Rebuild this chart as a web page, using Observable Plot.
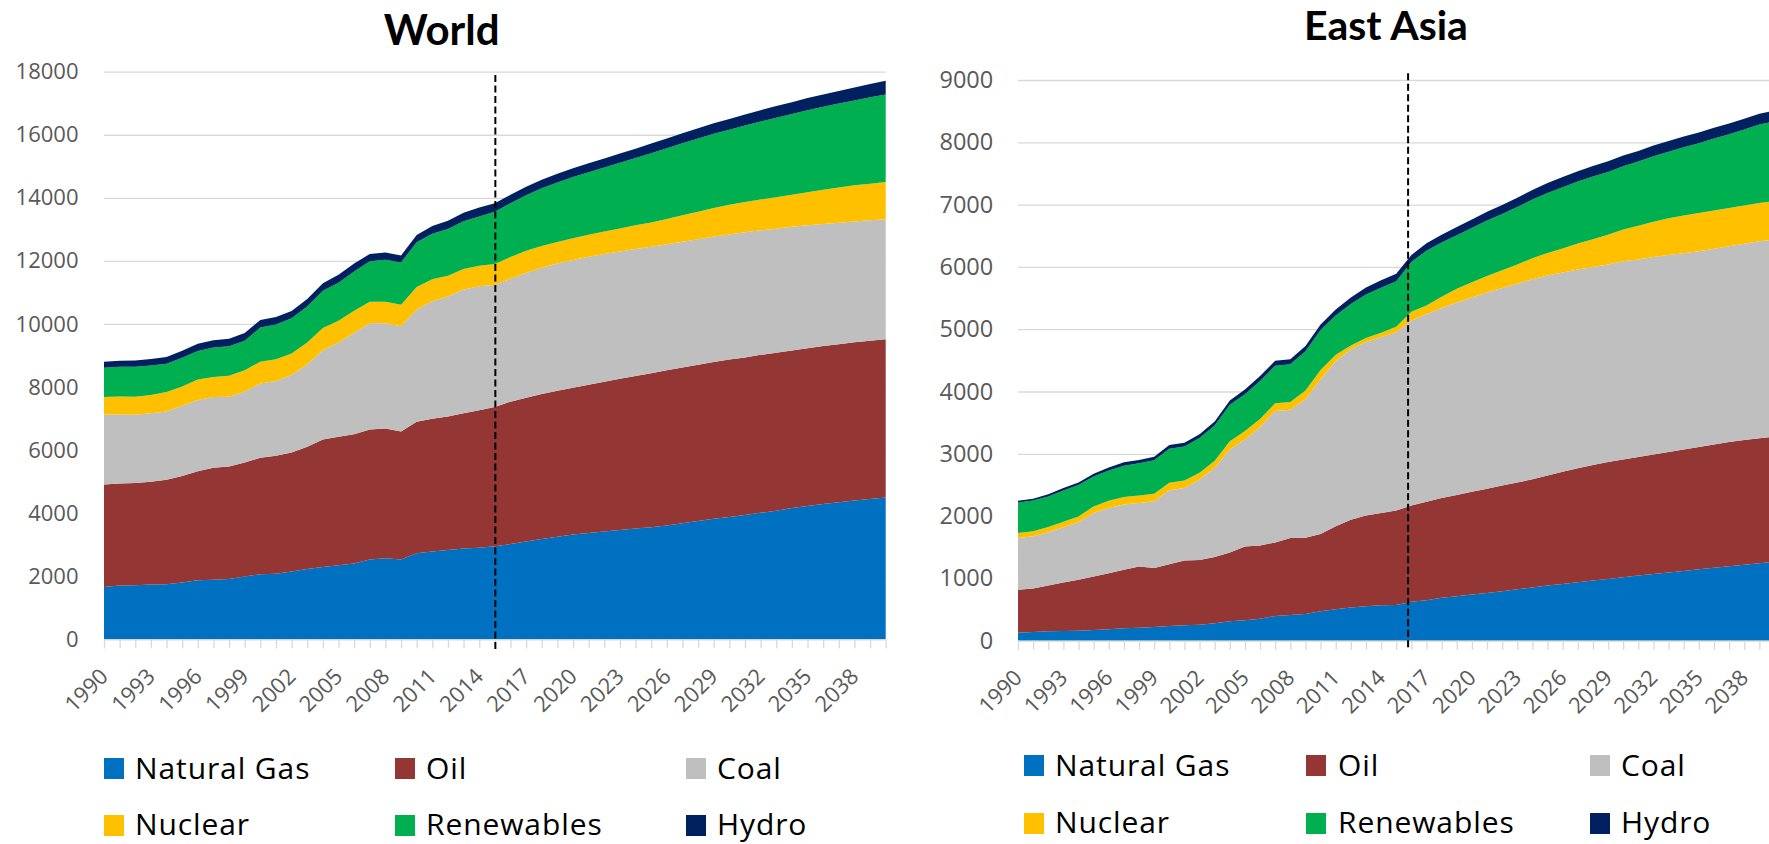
<!DOCTYPE html>
<html><head><meta charset="utf-8">
<script src="https://cdn.jsdelivr.net/npm/d3@7"></script>
<script src="https://cdn.jsdelivr.net/npm/@observablehq/plot@0.6"></script>
<style>
html,body{margin:0;padding:0;background:#fff;overflow:hidden}
#page{position:relative;width:1769px;height:844px;overflow:hidden;font-family:"Open Sans",sans-serif;background:#fff}
.holder{position:absolute;top:0}
.title{position:absolute;font-family:Lato,"Open Sans",sans-serif;font-weight:700;line-height:1;color:#000;white-space:nowrap;transform:translateX(-50%)}
.leg{position:absolute;font-size:30px;line-height:30px;color:#000;white-space:nowrap;letter-spacing:0.9px}
.sw{position:absolute;width:20px;height:21px}
</style></head><body><div id="page"></div><script>
// ---------- data ----------
const years = d3.range(1990, 2041);
const labelYears = [1990,1993,1996,1999,2002,2005,2008,2011,2014,2017,2020,2023,2026,2029,2032,2035,2038];
const fuels = ["Natural Gas","Oil","Coal","Nuclear","Renewables","Hydro"];
const fuelColors = ["#0070C0","#943634","#BFBFBF","#FFC000","#00B050","#002060"];
const worldYTicks = [0,2000,4000,6000,8000,10000,12000,14000,16000,18000];
const eaYTicks = [0,1000,2000,3000,4000,5000,6000,7000,8000,9000];
const dividers = [2015, 2015.75]; // World, East Asia

const worldGas = [1660,1710,1715,1735,1745,1800,1870,1885,1915,1990,
  2065,2075,2150,2230,2295,2350,2400,2530,2570,2530,
  2730,2785,2835,2880,2900,2950,3020,3100,3180,3250,
  3320,3370,3420,3470,3510,3550,3610,3680,3750,3820,
  3880,3940,4010,4080,4160,4230,4290,4350,4400,4450,4500];
const worldOil = [3250,3230,3240,3260,3315,3375,3460,3555,3565,3620,
  3690,3745,3775,3875,4040,4075,4105,4125,4115,4060,
  4170,4210,4230,4285,4360,4420,4515,4560,4600,4630,
  4660,4700,4750,4790,4840,4890,4920,4940,4960,4970,
  4990,5000,5010,5010,5000,5000,5010,5010,5020,5020,5015];
const worldCoal = [2220,2190,2170,2170,2165,2230,2255,2245,2210,2245,
  2360,2370,2455,2615,2835,2985,3215,3365,3335,3335,
  3555,3725,3810,3925,3935,3875,3895,3960,4000,4040,
  4050,4060,4050,4040,4030,4010,4000,3990,3980,3980,
  3970,3970,3950,3930,3920,3900,3870,3850,3830,3820,3805];
const worldNuclear = [550,570,570,580,615,615,655,635,665,675,
  690,690,680,690,700,690,700,685,685,685,
  720,700,655,655,655,660,690,700,690,680,
  690,700,710,730,750,770,800,840,870,910,
  940,960,980,1000,1020,1050,1090,1120,1150,1160,1180];
const worldRenewables = [930,940,950,940,900,910,900,930,940,940,
  1080,1100,1120,1140,1180,1210,1240,1280,1330,1340,
  1420,1440,1480,1510,1560,1650,1710,1760,1830,1890,
  1940,1980,2030,2080,2130,2190,2240,2280,2320,2350,
  2380,2420,2470,2520,2560,2600,2630,2660,2690,2740,2780];
const worldHydro = [190,195,200,205,210,220,230,235,240,245,
  240,240,235,240,245,250,255,235,230,220,
  230,250,260,270,280,275,265,270,270,275,
  280,285,290,295,300,310,315,320,330,335,
  340,350,360,370,375,385,390,400,410,420,430];

const eaGas = [129,140,150,156,161,172,183,199,209,220,
  236,247,258,279,311,327,354,397,413,429,
  472,505,531,553,569,574,625,650,690,715,
  740,765,795,825,855,885,910,940,965,990,
  1020,1045,1070,1095,1120,1145,1170,1195,1220,1245,1270];
const eaOil = [687,697,736,778,816,859,901,939,983,945,
  993,1041,1036,1063,1106,1187,1176,1181,1235,1224,
  1240,1331,1412,1455,1481,1514,1545,1580,1600,1625,
  1650,1675,1695,1715,1735,1765,1800,1830,1855,1880,
  1890,1905,1920,1935,1950,1965,1980,1995,2000,2005,2005];
const eaCoal = [832,838,853,886,923,1020,1047,1047,1020,1073,
  1187,1165,1293,1433,1654,1717,1900,2110,2059,2224,
  2485,2655,2735,2787,2825,2862,2970,3010,3050,3090,
  3120,3150,3170,3190,3210,3210,3200,3190,3180,3170,
  3180,3170,3170,3160,3150,3140,3140,3140,3150,3160,3165];
const eaNuclear = [80,80,85,90,95,105,115,120,120,120,
  120,120,110,115,130,135,130,125,125,140,
  150,100,60,65,70,90,140,140,180,220,
  245,265,285,310,340,365,385,415,445,475,
  510,540,565,590,605,615,615,615,615,615,615];
const eaRenewables = [490,495,490,500,505,480,485,505,515,540,
  545,545,555,565,585,590,610,600,605,630,
  640,630,665,695,720,730,800,880,870,860,
  870,890,905,920,940,960,985,995,1005,1010,
  1015,1030,1050,1070,1095,1120,1155,1185,1220,1260,1280];
const eaHydro = [30,30,35,40,40,45,50,55,55,55,
  60,60,60,65,70,75,80,80,80,85,
  90,95,105,115,120,122,110,120,125,130,
  135,140,145,150,155,160,162,165,168,170,
  172,172,172,172,172,172,172,172,172,172,172];

// ---------- chart builder ----------
function makeChart(o) {
  const data = [];
  fuels.forEach((f, i) => o.values[i].forEach((v, j) => data.push({year: years[j], fuel: f, value: v})));
  return Plot.plot({
    width: o.width, height: o.height,
    marginLeft: o.marginLeft, marginRight: o.marginRight,
    marginTop: o.marginTop, marginBottom: o.marginBottom,
    x: {domain: [1990, 2040]},
    y: {domain: [0, o.yTicks[o.yTicks.length - 1]]},
    color: {domain: fuels, range: fuelColors},
    style: {fontFamily: "Open Sans", background: "transparent", overflow: "visible"},
    marks: [
      Plot.gridY(o.yTicks.filter(d => d > 0), {stroke: "#d9d9d9", strokeOpacity: 1, strokeWidth: 1.3}),
      Plot.areaY(data, {x: "year", y: "value", fill: "fuel", order: fuels}),
      Plot.ruleY([0], {stroke: "#d9d9d9", strokeWidth: 1.3}),
      Plot.axisY(o.yTicks, {tickSize: 0, tickPadding: o.yPad, tickFormat: "d", fontSize: o.yFont, fill: "#595959", label: null}),
      Plot.axisX(years, {tickSize: 9, tickFormat: () => "", stroke: "#d9d9d9", strokeWidth: 1.3, label: null}),
      Plot.text(labelYears, {
        x: d => d, text: d => String(d), frameAnchor: "bottom", dy: 33,
        rotate: -45, textAnchor: "end", lineAnchor: "middle",
        fontSize: 22, fill: "#595959"
      }),
      Plot.ruleX([o.divider], {stroke: "#000", strokeWidth: 2, strokeDasharray: "7,3.5", insetTop: o.dashTop, insetBottom: o.dashBottom})
    ]
  });
}

const page = document.getElementById("page");

function place(chart, left, width) {
  const h = document.createElement("div");
  h.className = "holder";
  h.style.left = left + "px";
  h.style.width = width + "px";
  h.appendChild(chart);
  page.appendChild(h);
}

place(makeChart({
  values: [worldGas, worldOil, worldCoal, worldNuclear, worldRenewables, worldHydro],
  yTicks: worldYTicks, width: 900, height: 720,
  marginLeft: 104, marginRight: 14.3, marginTop: 71.7, marginBottom: 80.7,
  yPad: 26, yFont: 22, divider: dividers[0], dashTop: 3.3, dashBottom: -12.4
}), 0, 900);

place(makeChart({
  values: [eaGas, eaOil, eaCoal, eaNuclear, eaRenewables, eaHydro],
  yTicks: eaYTicks, width: 880, height: 720,
  marginLeft: 118, marginRight: 5.5, marginTop: 80, marginBottom: 79.3,
  yPad: 25.3, yFont: 23.5, divider: dividers[1], dashTop: -6.7, dashBottom: -9.3
}), 900, 880);

// ---------- titles ----------
function title(text, cx, top, size) {
  const d = document.createElement("div");
  d.className = "title";
  d.textContent = text;
  d.style.left = cx + "px";
  d.style.top = top + "px";
  d.style.fontSize = size + "px";
  page.appendChild(d);
}
title("World", 441.7, 7.8, 42);
title("East Asia", 1386, 4.4, 41);

// ---------- legends ----------
function legend(cols, rows) {
  fuels.forEach((f, i) => {
    const c = i % 3, r = Math.floor(i / 3);
    const sw = document.createElement("div");
    sw.className = "sw";
    sw.style.background = fuelColors[i];
    sw.style.left = cols[c].sw + "px";
    sw.style.top = rows[r].sw + "px";
    page.appendChild(sw);
    const t = document.createElement("div");
    t.className = "leg";
    t.textContent = f;
    t.style.left = cols[c].tx + "px";
    t.style.top = rows[r].tx + "px";
    page.appendChild(t);
  });
}
legend([{sw: 104, tx: 135}, {sw: 395, tx: 426}, {sw: 686, tx: 717}],
       [{sw: 758, tx: 753.4}, {sw: 815, tx: 809.4}]);
legend([{sw: 1024, tx: 1055}, {sw: 1306, tx: 1338}, {sw: 1590, tx: 1621}],
       [{sw: 755, tx: 750.4}, {sw: 813, tx: 807.4}]);
</script></body></html>
